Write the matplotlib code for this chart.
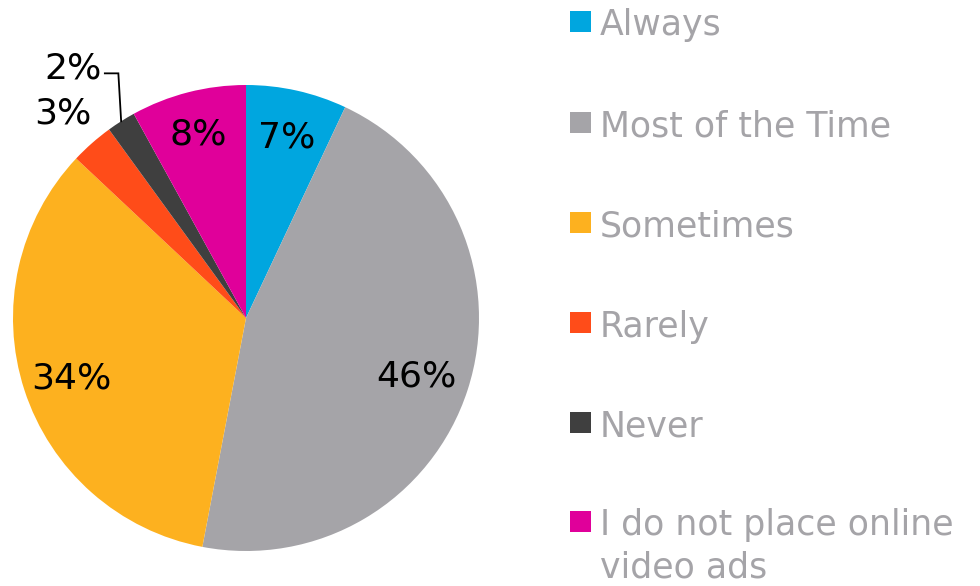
import matplotlib.pyplot as plt
from matplotlib.patches import Rectangle
import numpy as np

plt.rcParams['font.family'] = ['DejaVu Sans']

# survey shares, clockwise from 12 o'clock
categories = ['Always', 'Most of the Time', 'Sometimes', 'Rarely', 'Never',
              'I do not place online\nvideo ads']
shares = [7, 46, 34, 3, 2, 8]
colors = ['#00a6df', '#a5a4a8', '#fdb11f', '#ff4c19', '#3f3f3f', '#e0009a']
# radial position of each percent label (fraction of radius)
label_r = [0.81, 0.77, 0.79, 1.19, None, 0.83]

W, H = 980, 586
fig = plt.figure(figsize=(W / 100, H / 100), dpi=100)

cx, cy, R = 246, 318, 233
ax = fig.add_axes([(cx - R) / W, (H - cy - R) / H, 2 * R / W, 2 * R / H])
wedges, _ = ax.pie(shares, colors=colors, startangle=90, counterclock=False,
                   radius=1, wedgeprops=dict(linewidth=0))
ax.set_xlim(-1, 1)
ax.set_ylim(-1, 1)
ax.set_aspect('equal')
ax.axis('off')

for w, v, r in zip(wedges, shares, label_r):
    mid = np.deg2rad((w.theta1 + w.theta2) / 2)
    if r is None:
        # thin slice: label pulled out with an elbow leader
        x0, y0 = np.cos(mid), np.sin(mid)
        ax.plot([x0, x0 - 0.012, x0 - 0.07], [y0, 1.05, 1.05], color='black',
                lw=1.3, clip_on=False, solid_joinstyle='miter')
        ax.text(x0 - 0.085, 1.085, f'{v}%', fontsize=26, ha='right',
                va='center_baseline', color='black')
        continue
    ax.text(r * np.cos(mid), r * np.sin(mid), f'{v}%', fontsize=26,
            ha='center', va='center_baseline', color='black')

# legend drawn by hand: square swatch + grey label
row_y = [22, 123, 223, 323, 423, 522]
for c, name, y in zip(colors, categories, row_y):
    fig.patches.append(Rectangle((570 / W, (H - y - 10) / H), 21 / W, 21 / H,
                                 transform=fig.transFigure, facecolor=c,
                                 edgecolor='none'))
    lines = name.split('\n')
    for k, line in enumerate(lines):
        fig.text(600 / W, (H - y - 42 * k) / H, line, fontsize=25,
                 color='#a5a4a8', ha='left', va='center_baseline')

fig.savefig('out.png', dpi=100)
